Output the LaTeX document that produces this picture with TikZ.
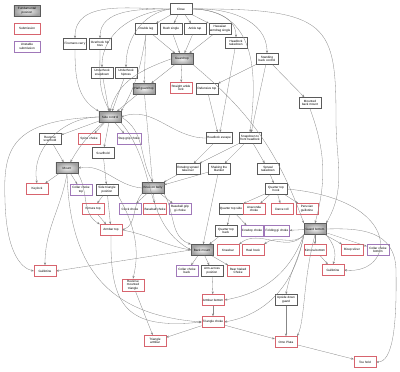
\documentclass[tikz,border=0pt]{standalone}
\usepackage{fontspec}
\setmainfont{Liberation Sans}
\usepackage{tikz}
\usetikzlibrary{arrows.meta, positioning, shadows}
\definecolor{edgegray}{RGB}{135,135,135}
\definecolor{boxdark}{RGB}{90,90,90}
\definecolor{subred}{RGB}{215,100,110}
\definecolor{unpurple}{RGB}{160,120,185}

\begin{document}
\begin{tikzpicture}[
  x=0.025cm, y=-0.025cm,
  font=\fontsize{2.2}{2.6}\selectfont,
  box/.style={draw=boxdark,fill=white,line width=0.2pt,minimum width=0.55cm,
              minimum height=0.28cm,inner sep=0.8pt,align=center,
              drop shadow={shadow xshift=0.5pt,shadow yshift=-0.6pt,fill=black!55,opacity=1}},
  tech/.style={box},
  fund/.style={box,shading=radial,inner color=gray!12,outer color=gray!75},
  subm/.style={box,draw=subred},
  unstab/.style={box,draw=unpurple},
  arr/.style={-{Stealth[length=2pt,width=1.5pt]},line width=0.22pt,color=edgegray}
]
  \useasboundingbox (0,0) rectangle (400,372);

  % legend
  \node[fund,minimum width=0.65cm] (lfund) at (27,11) {Fundamental\\position};
  \node[subm,minimum width=0.65cm,below=4.5pt of lfund] (lsub) {Submission};
  \node[unstab,minimum width=0.65cm,below=4.5pt of lsub] (lunst) {Unstable\\submission};

  % standing
  \node[tech] (close) at (181,9) {Close};
  \node[tech] (dleg) at (146,29) {Double leg};
  \node[tech] (bsingle) at (171,29) {Bush single};
  \node[tech] (ankle) at (195,29) {Ankle tap};
  \node[tech] (hawaii) at (220,29) {Hawaiian\\armdrag single};
  \node[tech] (hltd) at (236,43) {Headlock\\takedown};
  \node[tech] (stback) at (267,59) {Standing\\back control};
  \node[tech] (mback) at (310,103) {Mounted\\back mount};
  \node[tech] (fireman) at (75,44) {Firemans carry};
  \node[tech] (ohook) at (100,44) {Overhook hip\\toss};
  \node[tech] (uhsnap) at (102,73) {Underhook\\snapdown};
  \node[tech] (uhhip) at (126,73) {Underhook\\hiptoss};

  % top positions
  \node[fund] (gtop) at (182,59) {Guard top};
  \node[fund] (hgtop) at (144,89) {Half guard top};
  \node[subm] (sal) at (181,88) {Straight ankle\\lock};
  \node[tech] (deftop) at (207,89) {Defensive top};
  \node[fund] (side) at (110,117) {Side control};
  \node[tech] (rscarf) at (50,139) {Reverse\\scarfhold};
  \node[subm] (spine) at (89,139) {Spine choke};
  \node[unstab] (stepgrip) at (129,139) {Step grip choke};
  \node[tech] (scarf) at (103,153) {Scarfhold};
  \node[fund] (mount) at (67,168) {Mount};
  \node[subm] (keylock) at (37,189) {Keylock};
  \node[unstab] (cctop) at (81,190) {Collar choke\\top};
  \node[tech] (sidetri) at (107,190) {Side triangle\\position};
  \node[fund] (kob) at (153,188) {Knee on belly};
  \node[subm] (kimtop) at (93,209) {Kimura top};
  \node[unstab] (clock) at (130,209) {Clock choke};
  \node[subm] (bbchoke) at (155,209) {Baseball choke};
  \node[unstab] (bbgrip) at (180,209) {Baseball grip\\gi choke};
  \node[subm] (armtop) at (111,230) {Armbar top};

  % front headlock
  \node[tech] (hlesc) at (219,138) {Headlock escape};
  \node[tech] (snapfh) at (250,138) {Snapdown to\\front headlock};
  \node[tech] (rotspr) at (188,169) {Rotating sprawl\\takeover};
  \node[tech] (shake) at (219,169) {Shaking the\\blanket};
  \node[tech] (sprawl) at (268,169) {Sprawl\\takedown};
  \node[tech] (qthook) at (276,189) {Quarter top\\hook};
  \node[tech] (qtside) at (231,209) {Quarter top side};
  \node[subm] (anaconda) at (254,209) {Anaconda\\choke};
  \node[subm] (darce) at (282,209) {Darce roll};
  \node[subm] (peru) at (307,209) {Peruvian\\guillotine};
  \node[tech] (qtback) at (226,231) {Quarter top\\back};
  \node[unstab] (cowboy) at (252,231) {Cowboy choke};
  \node[unstab] (folding) at (277,231) {Folding gi choke};

  % back and guard bottom
  \node[fund] (gbot) at (315,229) {Guard bottom};
  \node[fund] (bmount) at (202,250) {Back mount};
  \node[subm] (kneebar) at (228,250) {Kneebar};
  \node[subm] (heel) at (253,250) {Heel hook};
  \node[subm] (kimbot) at (315,250) {Kimura bottom};
  \node[subm] (bicep) at (352,250) {Bicep slicer};
  \node[unstab] (ccbot) at (378,250) {Collar choke\\bottom};
  \node[unstab] (ccback) at (187,271) {Collar choke\\back};
  \node[tech] (armacross) at (212,271) {Arm-across\\position};
  \node[subm] (rnc) at (238,271) {Rear Naked\\Choke};
  \node[subm] (guilr) at (333,270) {Guillotine};
  \node[subm] (guill) at (45,271) {Guillotine};
  \node[subm] (rmtri) at (133,285) {Reverse\\mounted\\triangle};
  \node[subm] (armbot) at (213,300) {Armbar bottom};
  \node[tech] (udguard) at (286,300) {Upside down\\guard};
  \node[subm] (tri) at (213,322) {Triangle choke};
  \node[subm] (triarm) at (155,341) {Triangle\\armbar};
  \node[subm] (omo) at (286,342) {Omo Plata};
  \node[subm] (toe) at (365,362) {Toe hold};

  % from close
  \draw[arr] (close)--(dleg);
  \draw[arr] (close)--(bsingle);
  \draw[arr] (close)--(ankle);
  \draw[arr] (close)--(hawaii);
  \draw[arr] (close.east) to[out=0,in=90] (hltd.north);
  \draw[arr] (close.east) to[out=3,in=90] (stback.north);
  \draw[arr] (close.east) .. controls (255,10) and (258,70) .. (snapfh.north);
  \draw[arr] (close.east) .. controls (330,8) and (336,25) .. (336,120) to[out=-90,in=60] (gbot.north east);
  \draw[arr] (close.west) to[out=180,in=90] (fireman.north);
  \draw[arr] (close.west) to[out=180,in=90] (ohook.north);
  \draw[arr] (close.west) to[out=185,in=90] (uhsnap.north);
  \draw[arr] (close.west) to[out=190,in=90] (uhhip.north);

  % takedowns
  \draw[arr] (dleg)--(gtop);
  \draw[arr] (bsingle)--(gtop);
  \draw[arr] (ankle)--(gtop);
  \draw[arr] (hawaii)--(gtop);
  \draw[arr] (dleg)--(hgtop);
  \draw[arr] (dleg.south) to[out=-100,in=60] (side.north east);
  \draw[arr] (hltd)--(hlesc);
  \draw[arr] (stback)--(mback);
  \draw[arr] (stback)--(deftop);
  \draw[arr] (stback)--(snapfh);
  \draw[arr] (mback.south) to[out=-70,in=75] (gbot.north);
  \draw[arr] (fireman) to[out=-90,in=150] (side.north west);
  \draw[arr] (ohook) to[out=-90,in=120] (side.north);
  \draw[arr] (uhsnap)--(side);
  \draw[arr] (uhhip)--(side);

  % guard top and half guard
  \draw[arr] (gtop)--(sal);
  \draw[arr] (gtop)--(hgtop);
  \draw[arr] (gtop.west) to[out=200,in=75] (side.north);
  \draw[arr] (gtop.south east) to[out=-40,in=110] (gbot.north west);
  \draw[arr] (deftop)--(hlesc);
  \draw[arr] (hgtop)--(side);
  \draw[arr] (hgtop)--(kob);

  % side control
  \draw[arr] (side)--(rscarf);
  \draw[arr] (side)--(spine);
  \draw[arr] (side)--(stepgrip);
  \draw[arr] (side)--(scarf);
  \draw[arr] (side) to[bend right=10] (mount);
  \draw[arr] (side.east) to[out=-30,in=120] (kob.north);
  \draw[arr] (side.west) to[out=180,in=100] (keylock.north);
  \draw[arr] (side.west) .. controls (10,120) and (3,150) .. (5,200) .. controls (6,250) and (20,268) .. (guill.west);
  \draw[arr] (side.south east) to[out=-50,in=150] (bmount.west);
  \draw[arr] (rscarf)--(mount);
  \draw[arr] (scarf)--(sidetri);

  % mount
  \draw[arr] (mount)--(keylock);
  \draw[arr] (mount)--(cctop);
  \draw[arr] (mount.south) to[out=-100,in=90] (guill.north);
  \draw[arr] (mount.south east) to[out=-60,in=150] (armtop.north west);
  \draw[arr] (mount.south) .. controls (70,270) and (110,315) .. (tri.west);

  % knee on belly
  \draw[arr] (kob.west) to[out=175,in=10] (mount.east);
  \draw[arr] (kob)--(clock);
  \draw[arr] (kob)--(bbchoke);
  \draw[arr] (kob)--(bbgrip);
  \draw[arr] (kob.south west) to[out=-130,in=20] (armtop.east);
  \draw[arr] (kob.south east) to[out=-60,in=160] (bmount.north west);
  \draw[arr] (sidetri)--(kimtop);
  \draw[arr] (sidetri)--(armtop);
  \draw[arr] (sidetri.south east) .. controls (135,225) and (140,250) .. (rmtri.north);
  \draw[arr] (kimtop)--(armtop);
  \draw[arr] (armtop.south) .. controls (110,305) and (125,330) .. (tri.west);
  \draw[arr] (armtop.east) to[out=-10,in=170] (bmount.west);

  % front headlock
  \draw[arr] (rotspr)--(kob);
  \draw[arr] (shake)--(kob);
  \draw[arr] (shake)--(bmount);
  \draw[arr] (hlesc)--(rotspr);
  \draw[arr] (hlesc.west) to[out=180,in=20] (side.east);
  \draw[arr] (snapfh)--(rotspr);
  \draw[arr] (snapfh)--(shake);
  \draw[arr] (snapfh)--(sprawl);
  \draw[arr] (sprawl)--(qthook);
  \draw[arr] (qthook)--(qtside);
  \draw[arr] (qthook)--(anaconda);
  \draw[arr] (qthook)--(darce);
  \draw[arr] (qthook)--(peru);
  \draw[arr] (qthook.east) .. controls (405,200) and (395,275) .. (guilr.east);
  \draw[arr] (qtside)--(qtback);
  \draw[arr] (qtside)--(cowboy);
  \draw[arr] (qtback)--(bmount);

  % back mount
  \draw[arr] (bmount)--(ccback);
  \draw[arr] (bmount)--(armacross);
  \draw[arr] (bmount)--(rnc);
  \draw[arr] (bmount.west)--(guill.east);
  \draw[arr] (armacross)--(armbot);
  \draw[arr] (armbot)--(tri);
  \draw[arr] (tri)--(triarm);
  \draw[arr] (tri)--(omo);
  \draw[arr] (rmtri)--(triarm);

  % guard bottom
  \draw[arr] (gbot)--(folding);
  \draw[arr] (gbot)--(kimbot);
  \draw[arr] (gbot)--(bicep);
  \draw[arr] (gbot)--(ccbot);
  \draw[arr] (gbot.south east) to[out=-50,in=70] (guilr.north);
  \draw[arr] (kimbot)--(guilr);
  \draw[arr] (gbot.south west) to[out=-130,in=40] (kneebar.north east);
  \draw[arr] (gbot.south west) to[out=-130,in=40] (heel.north east);
  \draw[arr] (gbot.south west) to[out=-110,in=10] (armbot.east);
  \draw[arr] (gbot.south west) to[out=-100,in=10] (tri.east);
  \draw[arr] (gbot.south west) to[out=-100,in=80] (udguard.north);
  \draw[arr] (gbot.south) .. controls (303,280) and (305,320) .. (omo.north east);
  \draw[arr] (gbot.east) .. controls (360,228) and (395,230) .. (396,270) .. controls (397,330) and (392,362) .. (toe.east);
  \draw[arr] (udguard)--(omo);
  \draw[arr] (omo)--(toe);
\end{tikzpicture}
\end{document}
